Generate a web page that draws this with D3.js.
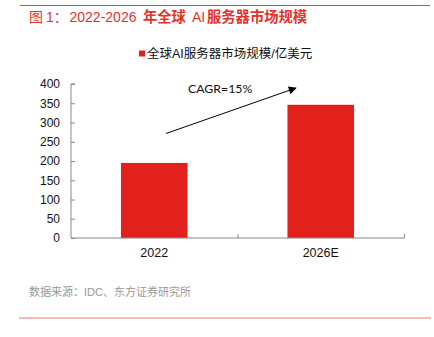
<!DOCTYPE html>
<html><head><meta charset="utf-8">
<script src="https://cdn.jsdelivr.net/npm/d3@7"></script>
<style>
html,body{margin:0;padding:0;background:#fff;}
svg{display:block;}
</style></head>
<body>
<script>
const categories = ["2022", "2026E"];
const values = [195, 346];
const yTicks = [0, 50, 100, 150, 200, 250, 300, 350, 400];
const titleParts = [
  {t: "图", bold: false, x: 29},
  {t: "1：", bold: false, x: 46},
  {t: "2022-2026", bold: false, x: 69.5},
  {t: "年全球", bold: true, x: 143},
  {t: "AI", bold: false, x: 192},
  {t: "服务器市场规模", bold: true, x: 207}
];
const legendText = "全球AI服务器市场规模/亿美元";
const cagrText = "CAGR=15%";
const sourceText = "数据来源：IDC、东方证券研究所";

const W = 434, H = 337;
const svg = d3.select("body").append("svg").attr("width", W).attr("height", H);
const cjk = "'Liberation Sans', Arial, 'Noto Sans CJK SC', sans-serif";

// top rule
svg.append("line").attr("x1", 20).attr("x2", 430).attr("y1", 5.5).attr("y2", 5.5)
  .attr("stroke", "#e0463f").attr("stroke-width", 1);
// title
const title = svg.append("text").attr("y", 22).attr("fill", "#e6322b")
  .attr("font-family", cjk).attr("font-size", 14);
title.selectAll("tspan").data(titleParts).enter().append("tspan")
  .attr("x", d => d.x).attr("font-weight", d => d.bold ? "bold" : "normal")
  .attr("font-size", d => d.bold ? 14.3 : 14).text(d => d.t);

const x = d3.scaleBand().domain(categories).range([71, 404]).paddingInner(0.6).paddingOuter(0.3);
const y = d3.scaleLinear().domain([0, 400]).range([238, 84]);

// legend
svg.append("rect").attr("x", 139).attr("y", 50.5).attr("width", 6).attr("height", 6).attr("fill", "#e2201c");
svg.append("text").attr("x", 147).attr("y", 58).attr("fill", "#111")
  .attr("font-family", cjk).attr("font-size", 12.5).text(legendText);

// bars
svg.selectAll(".bar").data(categories).enter().append("rect")
  .attr("x", d => x(d)).attr("width", x.bandwidth())
  .attr("y", (d, i) => y(values[i])).attr("height", (d, i) => y(0) - y(values[i]))
  .attr("fill", "#e2201c");

// y axis
const yAxis = d3.axisRight(y).tickValues(yTicks).tickSize(4).tickFormat("");
const gy = svg.append("g").attr("transform", "translate(71,0)").call(yAxis);
gy.select(".domain").attr("d", `M4,${y(400)}H0V${y(0)}`).attr("stroke", "#888");
gy.selectAll(".tick line").attr("stroke", "#888");
svg.append("g").selectAll("text").data(yTicks).enter().append("text")
  .attr("x", 60).attr("y", d => y(d) + 4.3).attr("text-anchor", "end")
  .attr("font-family", "'Liberation Sans', Arial, sans-serif").attr("font-size", 12).attr("fill", "#111")
  .text(d => d);

// x axis
const xBound = d3.scaleLinear().domain([0, 2]).range([71, 404]);
const gx = svg.append("g").attr("transform", `translate(0,${y(0)})`)
  .call(d3.axisTop(xBound).tickValues([1, 2]).tickSize(4).tickFormat(""));
gx.select(".domain").attr("d", `M71,0H404`).attr("stroke", "#888");
gx.selectAll(".tick line").attr("stroke", "#888");
svg.append("g").selectAll("text").data(categories).enter().append("text")
  .attr("x", d => x(d) + x.bandwidth() / 2).attr("y", 257).attr("text-anchor", "middle")
  .attr("font-family", "'Liberation Sans', Arial, sans-serif").attr("font-size", 12.5).attr("fill", "#111")
  .text(d => d);

// CAGR annotation
const defs = svg.append("defs");
defs.append("marker").attr("id", "arr").attr("viewBox", "0 0 10 10").attr("refX", 9).attr("refY", 5)
  .attr("markerWidth", 10).attr("markerHeight", 8).attr("markerUnits", "userSpaceOnUse").attr("orient", "auto")
  .append("path").attr("d", "M0,0L10,5L0,10Z").attr("fill", "#000");
svg.append("line").attr("x1", 166).attr("y1", 133.5).attr("x2", 296).attr("y2", 88)
  .attr("stroke", "#000").attr("stroke-width", 1).attr("marker-end", "url(#arr)");
svg.append("text").attr("x", 188).attr("y", 93).attr("font-family", "Lato, 'Open Sans', sans-serif")
  .attr("font-size", 12.3).attr("fill", "#111").text(cagrText);

// source
svg.append("text").attr("x", 29).attr("y", 296).attr("fill", "#999")
  .attr("font-family", cjk).attr("font-size", 11).text(sourceText);

// bottom rule
svg.append("line").attr("x1", 19).attr("x2", 431).attr("y1", 318).attr("y2", 318)
  .attr("stroke", "#f0a2a0").attr("stroke-width", 1.5);
</script>
</body></html>
